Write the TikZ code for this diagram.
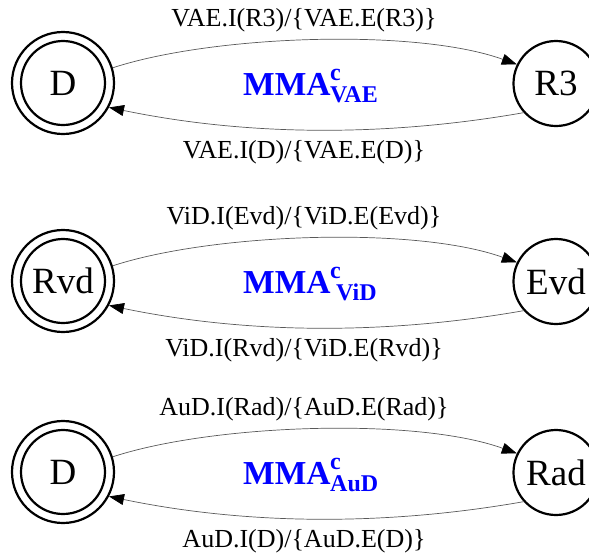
\documentclass[tikz,border=0pt]{standalone}
\usepackage{fontspec}
\setmainfont{Liberation Serif}
\usetikzlibrary{arrows.meta}
\definecolor{mmablue}{RGB}{0,0,255}
\begin{document}
\begin{tikzpicture}[x=1pt,y=-1pt,
  state/.style={circle,draw,line width=2.2pt,inner sep=0pt,minimum size=85pt,
                font=\fontsize{37}{37}\selectfont},
  accept/.style={state,minimum size=102pt},
  ring/.style={line width=2.2pt},
  edge/.style={line width=0.7pt,draw=black!65,
               -{Triangle[length=15pt,width=11pt,color=black,fill=black]}},
  lbl/.style={font=\fontsize{26}{26}\selectfont,inner sep=0pt},
  mma/.style={text=mmablue,font=\bfseries\fontsize{33.5}{33.5}\selectfont,
              inner sep=0pt,anchor=base west},
  mmascript/.style={text=mmablue,font=\bfseries\fontsize{24}{24}\selectfont,
                    inner sep=0pt,anchor=base west}
]
\useasboundingbox (0,0) rectangle (589,555);
\clip (0,0) rectangle (589,555);

% --- VAE machine
\begin{scope}
  \node[accept] (D1) at (63,83) {D};
  \draw[ring] (D1.center) circle[radius=42];
  \node[state] (R3) at (556,83.5) {R3};
  \draw[edge] (D1.17) .. controls (213,35) and (416,28) .. (R3.154);
  \draw[edge] (R3.222) .. controls (385,137) and (247,136) .. (D1.-28);
  \node[lbl] (t1) at (304,20) {VAE.I(R3)/\{VAE.E(R3)\}};
  \node[lbl] (b1) at (304,152) {VAE.I(D)/\{VAE.E(D)\}};
  \node[mma] (m1) at (243,95) {MMA};
  \node[mmascript] (m1c) at (330,80) {c};
  \node[mmascript] (m1s) at (330,102) {VAE};
\end{scope}

% --- ViD machine
\begin{scope}[shift={(0,198)}]
  \node[accept] (D2) at (63,83) {Rvd};
  \draw[ring] (D2.center) circle[radius=42];
  \node[state] (E2) at (556,83.5) {Evd};
  \draw[edge] (D2.17) .. controls (213,35) and (416,28) .. (E2.154);
  \draw[edge] (E2.222) .. controls (385,137) and (247,136) .. (D2.-28);
  \node[lbl] (t2) at (304,20) {ViD.I(Evd)/\{ViD.E(Evd)\}};
  \node[lbl] (b2) at (304,152) {ViD.I(Rvd)/\{ViD.E(Rvd)\}};
  \node[mma] (m2) at (243,95) {MMA};
  \node[mmascript] (m2c) at (330,80) {c};
  \node[mmascript] (m2s) at (336,102) {ViD};
\end{scope}

% --- AuD machine
\begin{scope}[shift={(0,389)}]
  \node[accept] (D3) at (63,83) {D};
  \draw[ring] (D3.center) circle[radius=42];
  \node[state] (R4) at (556,83.5) {Rad};
  \draw[edge] (D3.17) .. controls (213,35) and (416,28) .. (R4.154);
  \draw[edge] (R4.222) .. controls (385,137) and (247,136) .. (D3.-28);
  \node[lbl] (t3) at (304,20) {AuD.I(Rad)/\{AuD.E(Rad)\}};
  \node[lbl] (b3) at (304,152) {AuD.I(D)/\{AuD.E(D)\}};
  \node[mma] (m3) at (243,95) {MMA};
  \node[mmascript] (m3c) at (330,80) {c};
  \node[mmascript] (m3s) at (330,102) {AuD};
\end{scope}
\end{tikzpicture}
\end{document}
